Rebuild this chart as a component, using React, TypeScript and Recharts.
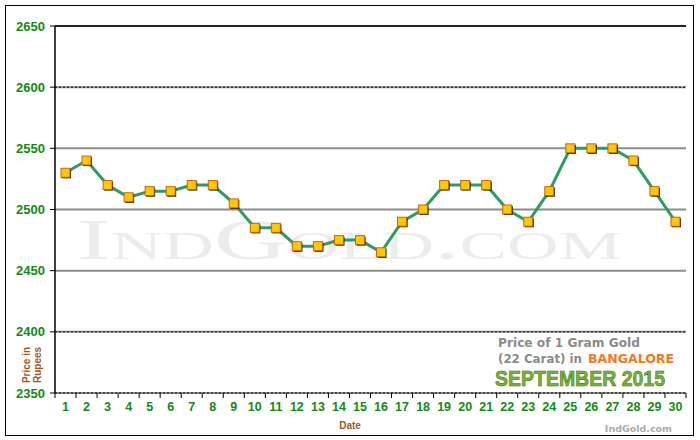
import React from "react";
import {
  LineChart,
  Line,
  XAxis,
  YAxis,
  CartesianGrid,
  ReferenceLine,
} from "recharts";

const days = [
  1, 2, 3, 4, 5, 6, 7, 8, 9, 10, 11, 12, 13, 14, 15, 16, 17, 18, 19, 20, 21, 22,
  23, 24, 25, 26, 27, 28, 29, 30,
];
const prices = [
  2530, 2540, 2520, 2510, 2515, 2515, 2520, 2520, 2505, 2485, 2485, 2470, 2470,
  2475, 2475, 2465, 2490, 2500, 2520, 2520, 2520, 2500, 2490, 2515, 2550, 2550,
  2550, 2540, 2515, 2490,
];
const yTicks = [2350, 2400, 2450, 2500, 2550, 2600, 2650];
const dottedLines = [2600, 2400, 2350];

const data = days.map((d, i) => ({ day: d, price: prices[i] }));

const W = 700;
const H = 440;
const M = { top: 26, right: 14, bottom: 0, left: 0 };
const Y_W = 55;
const X_H = 47;
const plotW = W - M.left - M.right - Y_W;
const halfBand = plotW / days.length / 2;

const GREEN = "#138a13";
const BROWN = "#9a5a1e";

const XTick = (props: any) => {
  const { x, y, payload, index } = props;
  const top = y - 6;
  return (
    <g>
      <line x1={x - halfBand} x2={x - halfBand} y1={top} y2={top + 5} stroke="#000" />
      {index === days.length - 1 && (
        <line x1={x + halfBand} x2={x + halfBand} y1={top} y2={top + 5} stroke="#000" />
      )}
      <text
        x={x}
        y={y + 12}
        textAnchor="middle"
        fill={GREEN}
        fontSize={12.5}
        fontWeight="bold"
        fontFamily="Liberation Sans, Arial, sans-serif"
      >
        {payload.value}
      </text>
    </g>
  );
};

const Dot = (props: any) => {
  const { cx, cy, index } = props;
  if (cx == null || cy == null) return null;
  return (
    <g key={`d${index}`}>
      <rect x={cx - 3.5} y={cy - 3.5} width={9} height={9} fill="#000" />
      <rect x={cx - 4.5} y={cy - 4.5} width={9} height={9} fill="#ffc800" stroke="#c8640a" strokeWidth={1} />
    </g>
  );
};

export default function App() {
  return (
    <div style={{ position: "absolute", left: 0, top: 0, width: W, height: H, background: "#fff" }}>
      <svg width={W} height={H} style={{ position: "absolute", left: 0, top: 0 }}>
        <rect x={5.5} y={5.5} width={688} height={430} fill="#fff" stroke="#000" />
        <text
          x={77}
          y={259}
          fontFamily="Liberation Serif, DejaVu Serif, serif"
          fontSize={57}
          style={{ fontVariant: "small-caps" }}
          textLength={545}
          lengthAdjust="spacingAndGlyphs"
          fill="#ececec"
        >
          IndGold.com
        </text>
        <g fontFamily="DejaVu Sans, Verdana, sans-serif" fontWeight="bold">
          <text x={498} y={347} fontSize={11.5} fill="#8a8a8a" textLength={142} lengthAdjust="spacingAndGlyphs">
            Price of 1 Gram Gold
          </text>
          <text x={498} y={363} fontSize={11.5} fill="#8a8a8a" textLength={84} lengthAdjust="spacingAndGlyphs">
            (22 Carat) in
          </text>
          <text x={588} y={363} fontSize={11.5} fill="#ef7a22" textLength={86} lengthAdjust="spacingAndGlyphs">
            BANGALORE
          </text>
          <text
            x={495}
            y={386}
            fontSize={22.5}
            fontWeight="900"
            fontFamily="Liberation Sans, Arial, sans-serif"
            fill="#78b536"
            stroke="#3f6e1c"
            strokeWidth={0.6}
            textLength={170}
            lengthAdjust="spacingAndGlyphs"
          >
            SEPTEMBER 2015
          </text>
          <text x={672} y={432} fontSize={9.5} fill="#aaaaaa" textAnchor="end">
            IndGold.com
          </text>
          <text x={350} y={429} fontSize={10} fill={BROWN} textAnchor="middle" fontFamily="Liberation Sans, Arial, sans-serif">
            Date
          </text>
          <g transform="translate(30 365) rotate(-90)" fontFamily="Liberation Sans, Arial, sans-serif">
            <text x={0} y={0} fontSize={10} fill={BROWN} textAnchor="middle">
              Price in
            </text>
            <text x={0} y={11} fontSize={10} fill={BROWN} textAnchor="middle">
              Rupees
            </text>
          </g>
        </g>
      </svg>
      <div style={{ position: "absolute", left: 0, top: 0 }}>
        <LineChart width={W} height={H} data={data} margin={M}>
          <CartesianGrid vertical={false} stroke="#8c8c8c" strokeWidth={2} />
          {dottedLines.map((v) => (
            <ReferenceLine key={v} y={v} stroke="#000" strokeDasharray="2 2" strokeWidth={1} ifOverflow="visible" />
          ))}
          <ReferenceLine y={2650} stroke="#000" strokeWidth={1.5} ifOverflow="visible" />
          <XAxis
            dataKey="day"
            type="number"
            domain={[0.5, 30.5]}
            ticks={days}
            interval={0}
            height={X_H}
            axisLine={false}
            tickLine={false}
            tickSize={6}
            tickMargin={0}
            tick={<XTick />}
          />
          <YAxis
            domain={[2350, 2650]}
            ticks={yTicks}
            interval={0}
            width={Y_W}
            axisLine={{ stroke: "#000", strokeWidth: 1.5 }}
            tickLine={{ stroke: "#000" }}
            tickSize={5}
            tickMargin={5}
            tick={{
              fill: GREEN,
              fontSize: 13,
              fontWeight: "bold",
              fontFamily: "Liberation Sans, Arial, sans-serif",
            }}
          />
          <YAxis
            yAxisId="right"
            orientation="right"
            width={0}
            domain={[0, 1]}
            tick={false}
            tickLine={false}
            axisLine={{ stroke: "#000", strokeWidth: 1.5 }}
          />
          <Line
            type="linear"
            dataKey="price"
            stroke="#2f9a62"
            strokeWidth={3}
            dot={<Dot />}
            activeDot={false}
            isAnimationActive={false}
          />
        </LineChart>
      </div>
    </div>
  );
}
